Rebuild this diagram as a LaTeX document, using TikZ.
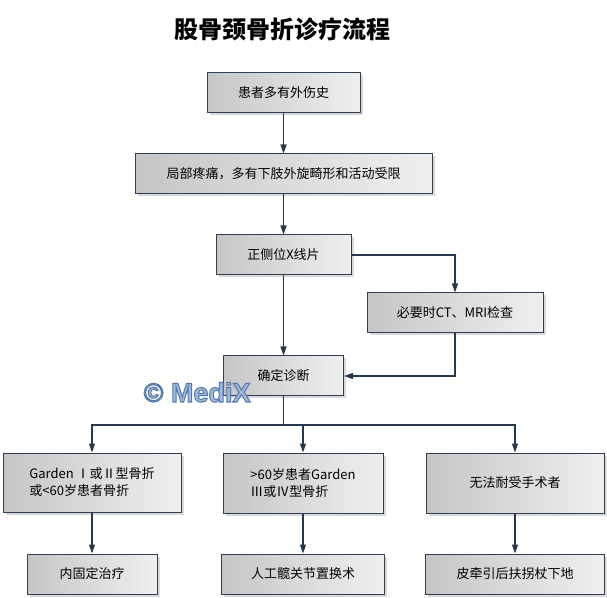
\documentclass[tikz,border=0pt]{standalone}
\usepackage{fontspec}
\setmainfont{Noto Sans CJK SC}
\setsansfont{Liberation Sans}
\usepackage{xcolor}
\definecolor{boxline}{RGB}{45,62,85}
\definecolor{arrowline}{RGB}{38,55,80}
\definecolor{markblue}{RGB}{160,186,220}
\usepackage{tikz}
\usetikzlibrary{positioning}
\usetikzlibrary{arrows.meta}
\usetikzlibrary{shadows}
\tikzset{main box/.style={rectangle,draw=boxline,line width=1pt,left color=gray!45,right color=gray!12,drop shadow={shadow xshift=2.5pt,shadow yshift=-2.5pt,opacity=0.3},minimum height=40pt,inner sep=2pt,font=\fontsize{13}{17}\selectfont},}

\begin{document}
\begin{tikzpicture}[-{Triangle[length=9pt,width=6pt]}, draw=arrowline, line width=1.2pt]
	\useasboundingbox (0,0) rectangle (607pt,597pt);
	\node[font=\fontsize{24}{28}\selectfont\bfseries] (title) at (282.5pt,568pt) {股骨颈骨折诊疗流程};

	\node[main box, minimum width=153pt] (a) at (283.5pt,504pt) {患者多有外伤史};
	\node[main box, minimum width=297pt] (b) [below = 40pt of a] {局部疼痛，多有下肢外旋畸形和活动受限};
	\node[main box, minimum width=135pt] (c) [below = 40pt of b] {正侧位X线片};
	\node[main box, minimum width=176pt] (d) at (455pt,284pt) {必要时CT、MRI检查};
	\node[main box, minimum width=120pt] (e) [below = 80pt of c] {确定诊断};
	\coordinate (split) at (283.5pt,172pt);
	\node[main box, minimum width=178pt, minimum height=59pt, align=left] (f) at (92pt,114.5pt) {Garden Ⅰ或Ⅱ型骨折\\或<60岁患者骨折};
	\node[main box, minimum width=160pt, minimum height=60pt, align=left] (g) at (303pt,114pt) {>60岁患者Garden\\Ⅲ或Ⅳ型骨折};
	\node[main box, minimum width=178pt, minimum height=60pt] (h) at (515pt,114pt) {无法耐受手术者};
	\node[main box, minimum width=130pt] (i) [below = 41pt of f] {内固定治疗};
	\node[main box, minimum width=163pt] (j) [below = 40pt of g] {人工髋关节置换术};
	\node[main box, minimum width=179pt] (k) [below = 40pt of h] {皮牵引后扶拐杖下地};

	\path[draw]
	(a) edge (b)
	(b) edge (c)
	(c) edge (e)
	(f) edge (i)
	(g) edge (j)
	(h) edge (k);
	\draw (c.east) -| (d.north);
	\draw (d.south) |- (e.east);
	\draw[-] (e.south) -- (split);
	\draw (split) -| (f.north);
	\draw (split) -| (g.north);
	\draw (split) -| (h.north);

	% watermark, outlined letters
	\node[font=\sffamily\bfseries\fontsize{27}{30}\selectfont, text=markblue, anchor=base west, inner sep=0pt] (mark) at (143pt,195pt) {\special{pdf:literal direct 2 Tr 1 w 0.33 0.47 0.68 RG}© MediX\special{pdf:literal direct 0 Tr}};
\end{tikzpicture}
\end{document}
